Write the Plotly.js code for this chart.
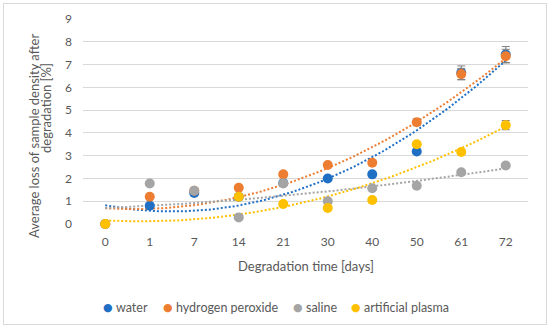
<!DOCTYPE html>
<html><head><meta charset="utf-8">
<script src="https://cdn.plot.ly/plotly-3.0.1.min.js"></script>
<style>html,body{margin:0;padding:0;background:#fff}#chart{width:550px;height:329px}
#frame{position:absolute;left:3px;top:3px;width:544px;height:322px;border:1px solid #d9d9d9;box-sizing:border-box;pointer-events:none}</style>
</head><body><div id="chart"></div><div id="frame"></div>
<script>
const days = ["0","1","7","14","21","30","40","50","61","72"];
const water = [0, 0.80, 1.36, 1.20, 1.80, 2.00, 2.18, 3.18, 6.64, 7.44];
const waterErr = [0, 0.05, 0.05, 0.05, 0.05, 0.05, 0.05, 0.1, 0.3, 0.35];
const peroxide = [0, 1.20, 1.46, 1.59, 2.18, 2.59, 2.69, 4.47, 6.58, 7.37];
const peroxideErr = [0, 0.05, 0.05, 0.05, 0.05, 0.05, 0.05, 0.15, 0.25, 0.3];
const saline = [0, 1.78, 1.46, 0.29, 1.78, 1.00, 1.57, 1.68, 2.27, 2.57];
const salineErr = [0, 0.05, 0.05, 0.05, 0.05, 0.05, 0.05, 0.05, 0.05, 0.1];
const plasma = [0, null, null, 1.20, 0.88, 0.70, 1.05, 3.50, 3.16, 4.34];
const plasmaErr = [0, 0, 0, 0.05, 0.05, 0.05, 0.05, 0.1, 0.1, 0.2];
// trendline values at each category
const waterTrend = [0.76, 0.62, 0.60, 0.85, 1.35, 1.93, 2.85, 4.10, 5.55, 7.20];
const peroxideTrend = [0.65, 0.70, 0.85, 1.18, 1.75, 2.44, 3.30, 4.50, 5.80, 7.27];
const salineTrend = [0.70, 0.80, 0.92, 1.05, 1.25, 1.42, 1.65, 1.90, 2.15, 2.44];
const plasmaTrend = [0.16, 0.12, 0.20, 0.40, 0.75, 1.20, 1.82, 2.50, 3.30, 4.28];
const names = ["water", "hydrogen peroxide", "saline", "artificial plasma"];
const colors = ["#1f6fc5", "#ed7d31", "#a5a5a5", "#ffc000"];

// smooth polynomial (order 2) trendline through the read trend values
function quadFit(ys){
  let S=[0,0,0,0,0], T=[0,0,0];
  ys.forEach((y,i)=>{for(let k=0;k<5;k++)S[k]+=Math.pow(i,k); for(let k=0;k<3;k++)T[k]+=y*Math.pow(i,k);});
  const A=[[S[0],S[1],S[2],T[0]],[S[1],S[2],S[3],T[1]],[S[2],S[3],S[4],T[2]]];
  for(let i=0;i<3;i++){for(let j=i+1;j<3;j++){const f=A[j][i]/A[i][i];for(let k=i;k<4;k++)A[j][k]-=f*A[i][k];}}
  const c=[0,0,0];for(let i=2;i>=0;i--){let s=A[i][3];for(let k=i+1;k<3;k++)s-=A[i][k]*c[k];c[i]=s/A[i][i];}
  return c;
}
const idx = days.map((d,i)=>i);
const series = [water, peroxide, saline, plasma];
const trends = [waterTrend, peroxideTrend, salineTrend, plasmaTrend];
const errs = [waterErr, peroxideErr, salineErr, plasmaErr];
const traces = [];
trends.forEach((ys,s)=>{
  const c = quadFit(ys);
  const tx=[], ty=[];
  for(let k=0;k<=90;k++){const x=k/10; tx.push(x); ty.push(c[0]+c[1]*x+c[2]*x*x);}
  traces.push({x:tx,y:ty,mode:'lines',line:{color:colors[s],width:2,dash:'2px,2px'},showlegend:false,hoverinfo:'skip'});
});
series.forEach((ys,s)=>{
  traces.push({x:idx,y:ys,name:names[s],mode:'markers',marker:{color:colors[s],size:10},showlegend:false,
    error_y:{type:'data',array:errs[s],visible:true,color:'#7f7f7f',thickness:1,width:4}, cliponaxis:false});
});
const fam = 'Lato, "Noto Sans", sans-serif';
const grey = '#595959';
const L = 83, T = 19, W = 445, H = 205;
const px = x => (x - L) / W, py = y => (T + H - y) / H;
// legend item positions (pixels) for the coloured dot and the start of each label
const legendDotX = [108, 168, 298, 356];
const legendTextX = [114, 174, 304, 362];
const ann = [
  {text:'Degradation time [days]', xref:'paper', yref:'paper', x:px(306), y:py(266), showarrow:false,
    xanchor:'center', yanchor:'middle', font:{family:fam,size:13,color:grey}},
  {text:'Average loss of sample density after', xref:'paper', yref:'paper', x:px(34), y:py(136), showarrow:false,
    textangle:-90, xanchor:'center', yanchor:'middle', font:{family:fam,size:13,color:grey}},
  {text:'degradation [%]', xref:'paper', yref:'paper', x:px(46), y:py(108), showarrow:false,
    textangle:-90, xanchor:'center', yanchor:'middle', font:{family:fam,size:13,color:grey}}
];
names.forEach((n,s)=>{
  ann.push({text:'●', xref:'paper', yref:'paper', x:px(legendDotX[s]), y:py(307), showarrow:false,
    xanchor:'center', yanchor:'middle', font:{family:'"DejaVu Sans", sans-serif',size:11,color:colors[s]}});
  ann.push({text:n, xref:'paper', yref:'paper', x:px(legendTextX[s]), y:py(307), showarrow:false,
    xanchor:'left', yanchor:'middle', font:{family:fam,size:12.5,color:grey}});
});
Plotly.newPlot('chart', traces, {
  width:550, height:329, margin:{l:L, r:550-L-W, t:T, b:329-T-H},
  paper_bgcolor:'#fff', plot_bgcolor:'#fff', font:{family:fam, size:12, color:grey},
  xaxis:{range:[-0.5,9.5], tickvals:idx, ticktext:days, showgrid:false, zeroline:false, showline:false, ticks:'',
    tickfont:{family:fam,size:12,color:grey}, ticklabelstandoff:9, automargin:false},
  yaxis:{range:[0,9], dtick:1, gridcolor:'#d9d9d9', gridwidth:1, zeroline:false, showline:false, ticks:'',
    tickfont:{family:fam,size:12,color:grey}, ticklabelstandoff:10, automargin:false},
  showlegend:false,
  annotations: ann
}, {staticPlot:true});
</script></body></html>
